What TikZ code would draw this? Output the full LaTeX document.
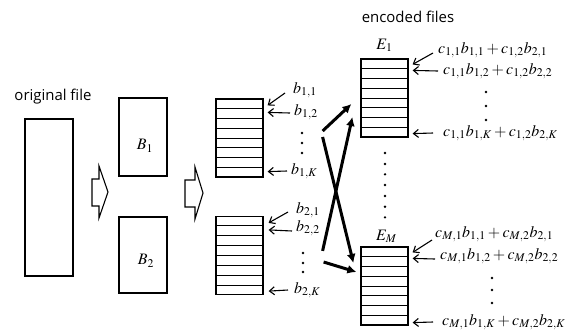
\documentclass[tikz,border=0pt]{standalone}
\usepackage{mathptmx}
\usepackage{fontspec}
\newfontfamily\labelfont{Open Sans}
\usetikzlibrary{arrows.meta,calc}
\newcommand{\mathsize}{\fontsize{16}{18}\selectfont}
\newcommand{\filerows}[1]{%
  \foreach \i in {1,...,7}{
    \draw[rowline] ($(#1.north west)!\i/8!(#1.south west)$) -- ($(#1.north east)!\i/8!(#1.south east)$);
  }}

\begin{document}
\begin{tikzpicture}[
  x=1bp,y=-1bp,
  every node/.style={font=\mathsize},
  box/.style={draw,line width=1.2pt,minimum width=48bp,inner sep=0pt},
  stackbox/.style={draw,line width=1.2pt,minimum width=47bp,minimum height=78bp,inner sep=0pt},
  rowline/.style={line width=1pt},
  lab/.style={anchor=west,inner sep=1bp},
  title/.style={font=\labelfont\fontsize{15}{17}\selectfont},
  tag/.style={-{Straight Barb[length=5bp,width=8bp]},line width=1.1pt},
  flow/.style={-{Latex[length=9bp,width=9bp]},line width=3bp},
  bigarrow/.style={draw,line width=1.1pt,fill=white}
]
\useasboundingbox (0,0) rectangle (572,334);

%% ---- original file and its two blocks ----
\node[title] (origtxt) at (53,97) {original file};
\node[box,minimum height=157bp] (orig) at (49,197.5) {};
\node[box,minimum height=78bp] (B1) at (143,137) {};
\node[box,minimum height=76bp] (B2) at (143,255) {};
\node (B1lab) at ($(B1)+(2,9)$) {$B_1$};
\node (B2lab) at ($(B2)+(3,6)$) {$B_2$};

%% ---- block arrows ----
\draw[bigarrow] (92,179) -- (99,179) -- (99,166) -- (108,192) -- (99,218) -- (99,206) -- (92,206) -- cycle;
\draw[bigarrow] (185,180) -- (195,180) -- (195,167) -- (203,193) -- (195,219) -- (195,207) -- (185,207) -- cycle;

%% ---- split blocks ----
\node[stackbox] (s1) at (239.5,138) {};
\node[stackbox] (s2) at (239.5,255.5) {};
\filerows{s1}
\filerows{s2}

\node[lab] (b11) at (292,90)  {$b_{1,1}$};
\node[lab] (b12) at (293,112) {$b_{1,2}$};
\node[lab] (b1K) at (290,171) {$b_{1,K}$};
\node[lab] (b21) at (295,210) {$b_{2,1}$};
\node[lab] (b22) at (295,228) {$b_{2,2}$};
\node[lab] (b2K) at (293,290) {$b_{2,K}$};

\draw[tag] ($(b11.west)+(-7,3)$) -- ($(s1.north east)+(4,7)$);
\draw[tag] ($(b12.west)+(-3,1)$) -- ($(s1.north east)+(4,14)$);
\draw[tag] ($(b1K.west)+(-3,0)$) -- ($(s1.south east)+(4,-6)$);
\draw[tag] ($(b21.west)+(-7,2)$) -- ($(s2.north east)+(5,7)$);
\draw[tag] ($(b22.west)+(-3,3)$) -- ($(s2.north east)+(5,14)$);
\draw[tag] ($(b2K.west)+(-5,0)$) -- ($(s2.south east)+(5,-4)$);

\foreach \y in {133,143,153} \fill (302,\y) circle (1.3bp);
\foreach \y in {253,263,272} \fill (303,\y) circle (1.3bp);

%% ---- encoded files ----
\node[title] (enctxt) at (408,17) {encoded files};
\node[stackbox] (E1) at (384.5,98) {};
\node[stackbox] (EM) at (384.5,286) {};
\filerows{E1}
\filerows{EM}
\node (E1lab) at ($(E1.north)+(0,-13)$) {$E_1$};
\node (EMlab) at ($(EM.north)+(2,-10)$) {$E_M$};

\foreach \y in {153,164,174.3,185,196,206.7,217.3} \fill (385,\y) circle (1.3bp);

\node[lab] (l11) at (437,50)  {$c_{1,1}b_{1,1}+c_{1,2}b_{2,1}$};
\node[lab] (l12) at (442,71)  {$c_{1,1}b_{1,2}+c_{1,2}b_{2,2}$};
\node[lab] (l1K) at (442,133) {$c_{1,1}b_{1,K}+c_{1,2}b_{2,K}$};
\node[lab] (lM1) at (434,234) {$c_{M,1}b_{1,1}+c_{M,2}b_{2,1}$};
\node[lab] (lM2) at (439,256) {$c_{M,1}b_{1,2}+c_{M,2}b_{2,2}$};
\node[lab] (lMK) at (441,322) {$c_{M,1}b_{1,K}+c_{M,2}b_{2,K}$};

\draw[tag] ($(l11.west)+(-4,3)$) -- ($(E1.north east)+(4,6)$);
\draw[tag] ($(l12.west)+(-4,0)$) -- ($(E1.north east)+(4,12)$);
\draw[tag] ($(l1K.west)+(-9,0)$) -- ($(E1.south east)+(4,-4)$);
\draw[tag] ($(lM1.west)+(-2,6)$) -- ($(EM.north east)+(4,6)$);
\draw[tag] ($(lM2.west)+(-4,3)$) -- ($(EM.north east)+(4,12)$);
\draw[tag] ($(lMK.west)+(-8,0)$) -- ($(EM.south east)+(4,-3)$);

\foreach \y in {92,106,120} \fill (486,\y) circle (1.3bp);
\foreach \y in {278,290,303} \fill (492,\y) circle (1.3bp);

%% ---- coding arrows ----
\draw[flow] ($(s1.east)+(59,-7)$) -- ($(E1.west)+(-9,6)$);
\draw[flow] ($(s2.north east)+(59,35)$) -- ($(E1.west)+(-8,19)$);
\draw[flow] ($(s1.east)+(59,-1)$) -- ($(EM.west)+(-7,-23)$);
\draw[flow] ($(s2.east)+(60,6.5)$) -- ($(EM.west)+(-4,-14)$);

\end{tikzpicture}
\end{document}
